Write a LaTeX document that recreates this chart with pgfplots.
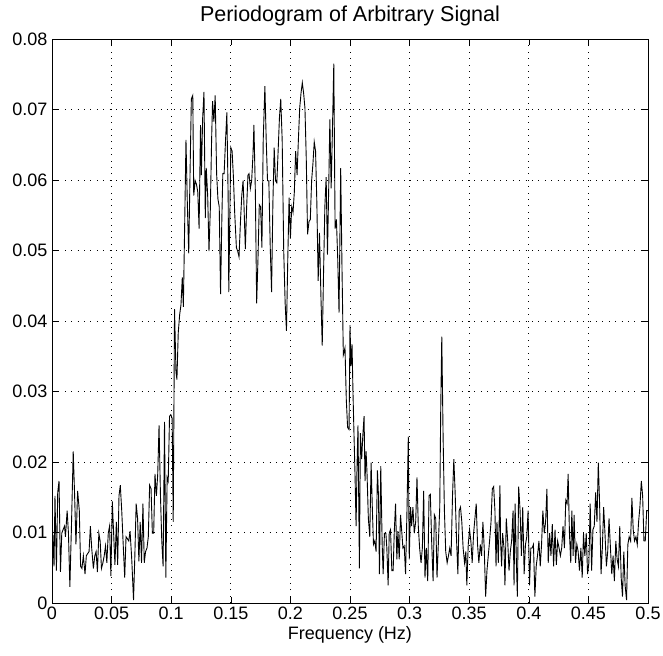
\documentclass[border=0pt]{standalone}
\usepackage{fontspec}
\setmainfont{Liberation Sans}
\usepackage{pgfplots}
\pgfplotsset{compat=1.18}
\usepackage{pgfplotstable}
\pgfplotstableread{
f y
0.0000 0.0095
0.0006 0.0099
0.0017 0.0052
0.0025 0.0152
0.0037 0.0046
0.0048 0.0157
0.0059 0.0173
0.0071 0.0044
0.0082 0.0099
0.0093 0.0104
0.0105 0.0109
0.0113 0.0094
0.0127 0.0131
0.0138 0.0099
0.0150 0.0023
0.0164 0.0115
0.0178 0.0215
0.0189 0.0157
0.0201 0.0083
0.0215 0.0159
0.0229 0.0131
0.0240 0.0052
0.0251 0.0049
0.0263 0.0067
0.0277 0.0041
0.0288 0.0067
0.0299 0.0070
0.0311 0.0073
0.0322 0.0109
0.0333 0.0078
0.0347 0.0049
0.0359 0.0067
0.0370 0.0073
0.0381 0.0044
0.0393 0.0099
0.0404 0.0088
0.0415 0.0049
0.0427 0.0057
0.0438 0.0067
0.0449 0.0081
0.0460 0.0057
0.0472 0.0099
0.0483 0.0109
0.0494 0.0038
0.0506 0.0144
0.0517 0.0099
0.0528 0.0054
0.0540 0.0115
0.0551 0.0054
0.0562 0.0152
0.0573 0.0167
0.0585 0.0131
0.0596 0.0088
0.0610 0.0036
0.0621 0.0094
0.0633 0.0091
0.0644 0.0088
0.0655 0.0102
0.0669 0.0062
0.0684 0.0004
0.0695 0.0067
0.0706 0.0141
0.0718 0.0120
0.0729 0.0059
0.0740 0.0115
0.0751 0.0057
0.0763 0.0141
0.0774 0.0057
0.0785 0.0073
0.0797 0.0078
0.0808 0.0094
0.0819 0.0167
0.0831 0.0162
0.0842 0.0099
0.0853 0.0099
0.0864 0.0183
0.0876 0.0152
0.0887 0.0183
0.0898 0.0252
0.0910 0.0152
0.0921 0.0088
0.0932 0.0052
0.0944 0.0257
0.0955 0.0036
0.0966 0.0178
0.0975 0.0173
0.0986 0.0265
0.0997 0.0267
0.1008 0.0262
0.1017 0.0115
0.1028 0.0417
0.1040 0.0328
0.1048 0.0317
0.1059 0.0383
0.1071 0.0409
0.1082 0.0423
0.1093 0.0462
0.1102 0.0420
0.1113 0.0536
0.1124 0.0657
0.1136 0.0562
0.1147 0.0496
0.1158 0.0609
0.1169 0.0715
0.1181 0.0720
0.1189 0.0578
0.1201 0.0599
0.1212 0.0594
0.1223 0.0583
0.1234 0.0531
0.1246 0.0678
0.1253 0.0607
0.1264 0.0688
0.1275 0.0725
0.1286 0.0546
0.1294 0.0617
0.1306 0.0578
0.1317 0.0499
0.1328 0.0557
0.1339 0.0657
0.1347 0.0712
0.1358 0.0683
0.1369 0.0720
0.1381 0.0609
0.1392 0.0573
0.1403 0.0562
0.1414 0.0438
0.1425 0.0546
0.1433 0.0609
0.1444 0.0609
0.1456 0.0657
0.1467 0.0696
0.1478 0.0573
0.1483 0.0441
0.1500 0.0646
0.1511 0.0641
0.1522 0.0604
0.1533 0.0552
0.1547 0.0504
0.1558 0.0499
0.1569 0.0491
0.1581 0.0541
0.1592 0.0578
0.1603 0.0599
0.1611 0.0562
0.1622 0.0502
0.1633 0.0562
0.1644 0.0607
0.1653 0.0609
0.1664 0.0588
0.1675 0.0599
0.1686 0.0636
0.1694 0.0678
0.1706 0.0583
0.1717 0.0425
0.1728 0.0488
0.1739 0.0565
0.1750 0.0562
0.1761 0.0504
0.1772 0.0657
0.1786 0.0733
0.1797 0.0657
0.1808 0.0599
0.1819 0.0599
0.1831 0.0504
0.1842 0.0441
0.1853 0.0567
0.1864 0.0646
0.1875 0.0599
0.1886 0.0596
0.1897 0.0641
0.1908 0.0688
0.1919 0.0715
0.1931 0.0657
0.1944 0.0499
0.1956 0.0425
0.1967 0.0386
0.1978 0.0488
0.1989 0.0575
0.2000 0.0517
0.2011 0.0562
0.2022 0.0554
0.2033 0.0583
0.2044 0.0641
0.2056 0.0607
0.2067 0.0657
0.2078 0.0702
0.2089 0.0723
0.2100 0.0738
0.2111 0.0723
0.2122 0.0702
0.2133 0.0631
0.2144 0.0523
0.2156 0.0541
0.2167 0.0544
0.2178 0.0599
0.2189 0.0623
0.2200 0.0654
0.2211 0.0641
0.2222 0.0567
0.2233 0.0457
0.2244 0.0525
0.2256 0.0436
0.2267 0.0365
0.2278 0.0467
0.2289 0.0562
0.2300 0.0604
0.2311 0.0494
0.2322 0.0594
0.2331 0.0686
0.2342 0.0588
0.2353 0.0673
0.2364 0.0765
0.2375 0.0531
0.2386 0.0544
0.2397 0.0488
0.2408 0.0412
0.2422 0.0617
0.2433 0.0473
0.2444 0.0352
0.2458 0.0362
0.2469 0.0288
0.2480 0.0249
0.2492 0.0246
0.2500 0.0394
0.2508 0.0336
0.2517 0.0367
0.2525 0.0299
0.2534 0.0236
0.2542 0.0183
0.2551 0.0109
0.2559 0.0194
0.2567 0.0252
0.2579 0.0049
0.2587 0.0241
0.2598 0.0204
0.2607 0.0236
0.2618 0.0265
0.2626 0.0173
0.2635 0.0215
0.2643 0.0183
0.2654 0.0120
0.2666 0.0094
0.2677 0.0199
0.2688 0.0131
0.2697 0.0083
0.2708 0.0088
0.2719 0.0073
0.2730 0.0188
0.2739 0.0152
0.2747 0.0041
0.2758 0.0194
0.2770 0.0083
0.2778 0.0041
0.2789 0.0099
0.2801 0.0099
0.2809 0.0078
0.2820 0.0025
0.2829 0.0099
0.2840 0.0104
0.2851 0.0046
0.2862 0.0046
0.2871 0.0099
0.2882 0.0141
0.2893 0.0062
0.2902 0.0102
0.2913 0.0062
0.2924 0.0125
0.2933 0.0104
0.2944 0.0078
0.2955 0.0081
0.2966 0.0041
0.2978 0.0131
0.2989 0.0236
0.2997 0.0062
0.3008 0.0136
0.3017 0.0109
0.3028 0.0136
0.3039 0.0099
0.3051 0.0115
0.3062 0.0178
0.3073 0.0109
0.3084 0.0078
0.3096 0.0057
0.3107 0.0078
0.3118 0.0159
0.3129 0.0036
0.3140 0.0078
0.3152 0.0031
0.3163 0.0152
0.3174 0.0154
0.3185 0.0088
0.3197 0.0031
0.3208 0.0125
0.3219 0.0120
0.3230 0.0036
0.3242 0.0088
0.3253 0.0136
0.3261 0.0273
0.3270 0.0378
0.3281 0.0236
0.3292 0.0131
0.3303 0.0073
0.3315 0.0057
0.3326 0.0067
0.3337 0.0078
0.3348 0.0067
0.3360 0.0152
0.3371 0.0204
0.3382 0.0157
0.3393 0.0094
0.3405 0.0041
0.3416 0.0131
0.3427 0.0136
0.3438 0.0115
0.3449 0.0078
0.3461 0.0057
0.3472 0.0073
0.3480 0.0025
0.3492 0.0083
0.3503 0.0104
0.3514 0.0088
0.3525 0.0057
0.3537 0.0099
0.3548 0.0120
0.3559 0.0141
0.3570 0.0083
0.3581 0.0057
0.3593 0.0083
0.3604 0.0067
0.3615 0.0115
0.3626 0.0078
0.3638 0.0009
0.3649 0.0046
0.3660 0.0067
0.3671 0.0088
0.3683 0.0115
0.3694 0.0162
0.3705 0.0165
0.3716 0.0131
0.3725 0.0052
0.3733 0.0115
0.3744 0.0057
0.3758 0.0167
0.3763 0.0088
0.3772 0.0052
0.3780 0.0099
0.3792 0.0078
0.3800 0.0025
0.3811 0.0120
0.3823 0.0088
0.3834 0.0046
0.3845 0.0073
0.3856 0.0088
0.3868 0.0131
0.3876 0.0025
0.3885 0.0141
0.3896 0.0057
0.3904 0.0009
0.3915 0.0165
0.3927 0.0131
0.3938 0.0067
0.3949 0.0136
0.3961 0.0041
0.3972 0.0083
0.3983 0.0094
0.3994 0.0131
0.4006 0.0025
0.4017 0.0078
0.4028 0.0078
0.4039 0.0083
0.4051 0.0009
0.4062 0.0052
0.4073 0.0067
0.4085 0.0088
0.4096 0.0052
0.4107 0.0083
0.4118 0.0131
0.4130 0.0099
0.4141 0.0115
0.4152 0.0162
0.4163 0.0057
0.4175 0.0099
0.4186 0.0067
0.4197 0.0112
0.4208 0.0052
0.4220 0.0104
0.4231 0.0054
0.4242 0.0088
0.4254 0.0078
0.4265 0.0067
0.4276 0.0078
0.4287 0.0109
0.4299 0.0078
0.4310 0.0146
0.4321 0.0141
0.4330 0.0183
0.4341 0.0099
0.4352 0.0057
0.4361 0.0131
0.4372 0.0067
0.4380 0.0125
0.4392 0.0057
0.4403 0.0083
0.4414 0.0073
0.4425 0.0046
0.4437 0.0078
0.4448 0.0036
0.4459 0.0099
0.4470 0.0067
0.4482 0.0099
0.4493 0.0041
0.4504 0.0057
0.4515 0.0141
0.4527 0.0046
0.4538 0.0104
0.4549 0.0109
0.4561 0.0157
0.4572 0.0115
0.4583 0.0199
0.4594 0.0141
0.4606 0.0041
0.4617 0.0078
0.4628 0.0136
0.4639 0.0099
0.4651 0.0052
0.4662 0.0073
0.4673 0.0120
0.4685 0.0078
0.4696 0.0041
0.4707 0.0067
0.4718 0.0031
0.4730 0.0088
0.4741 0.0062
0.4752 0.0052
0.4763 0.0109
0.4775 0.0036
0.4786 0.0009
0.4797 0.0073
0.4808 0.0025
0.4820 0.0004
0.4831 0.0083
0.4842 0.0094
0.4854 0.0088
0.4865 0.0149
0.4876 0.0104
0.4887 0.0088
0.4899 0.0094
0.4910 0.0083
0.4921 0.0115
0.4932 0.0136
0.4944 0.0173
0.4955 0.0152
0.4966 0.0088
0.4977 0.0088
0.4989 0.0131
0.5000 0.0131
}\datatable
\begin{document}
\begin{tikzpicture}
\useasboundingbox (-52pt,-52pt) rectangle (611pt,603pt);
\begin{axis}[
  at={(0,0)}, anchor=south west,
  scale only axis,
  width=596pt, height=564pt,
  xmin=0, xmax=0.5, ymin=0, ymax=0.08,
  xtick={0,0.05,0.1,0.15,0.2,0.25,0.3,0.35,0.4,0.45,0.5},
  xticklabels={0,0.05,0.1,0.15,0.2,0.25,0.3,0.35,0.4,0.45,0.5},
  ytick={0,0.01,0.02,0.03,0.04,0.05,0.06,0.07,0.08},
  yticklabels={0,0.01,0.02,0.03,0.04,0.05,0.06,0.07,0.08},
  scaled x ticks=false, scaled y ticks=false,
  tick align=inside,
  major tick length=6pt,
  tick style={black, line width=0.6pt},
  axis line style={black, line width=0.8pt},
  grid=major,
  major grid style={black, line width=0.7pt, dash pattern=on 0.8pt off 5.6pt},
  ticklabel style={font=\fontsize{18}{21}\selectfont},
  xticklabel style={yshift=0pt},
  yticklabel style={xshift=-1pt},
  title={Periodogram of Arbitrary Signal},
  title style={font=\fontsize{21.5}{25}\selectfont, yshift=4pt},
  xlabel={Frequency (Hz)},
  xlabel style={font=\fontsize{18}{21}\selectfont, yshift=0pt},
]
\addplot[black, line width=0.9pt, mark=none] table[x=f, y=y] {\datatable};
\end{axis}
\end{tikzpicture}
\end{document}
